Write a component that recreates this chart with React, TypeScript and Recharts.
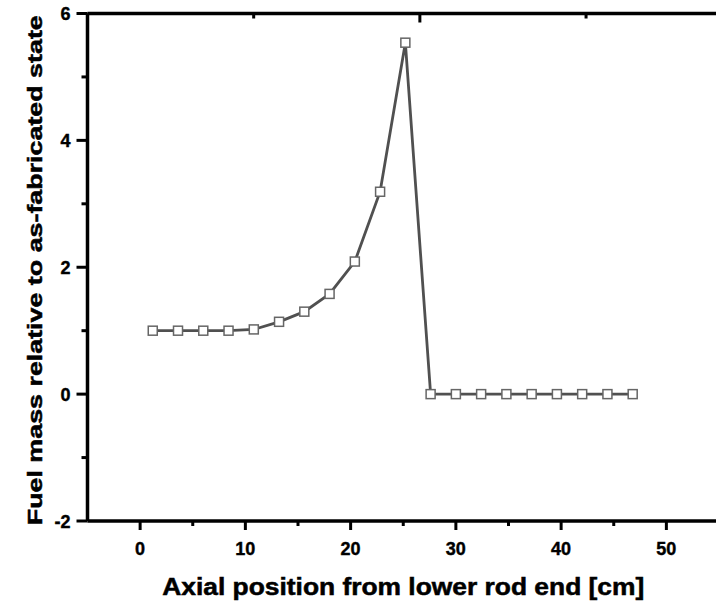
import React from 'react';
import { LineChart, Line, XAxis, YAxis } from 'recharts';

// axial position [cm]
const axialPos = [
  1.2, 3.6, 6.0, 8.4, 10.8, 13.2, 15.6, 18.0, 20.4, 22.8,
  25.2, 27.6, 30.0, 32.4, 34.8, 37.2, 39.6, 42.0, 44.4, 46.8,
];
// fuel mass relative to as-fabricated state
const fuelMass = [
  1.0, 1.0, 1.0, 1.0, 1.02, 1.14, 1.3, 1.58, 2.09, 3.19,
  5.54, 0, 0, 0, 0, 0, 0, 0, 0, 0,
];
const xTicks = [0, 5, 10, 15, 20, 25, 30, 35, 40, 45, 50];
const yTicks = [-2, -1, 0, 1, 2, 3, 4, 5, 6];

const data = axialPos.map((x, i) => ({ x, y: fuelMass[i] }));

const tickFont = {
  fontFamily: 'Liberation Sans, Arial',
  fontWeight: 700,
  fontSize: 18,
  fill: '#000',
  stroke: '#000',
  strokeWidth: 0.4,
};
const titleFont = {
  fontFamily: 'Liberation Sans, Arial',
  fontWeight: 700,
  fill: '#000',
  stroke: '#000',
  strokeWidth: 0.5,
};

const BottomTick = ({ x, y, payload }: any) => {
  const v = payload.value;
  const major = v % 10 === 0;
  return (
    <g>
      <line x1={x} x2={x} y1={y} y2={y + (major ? 9 : 5)} stroke="#000" strokeWidth={3} />
      {major && (
        <text x={x} y={y + 34} textAnchor="middle" {...tickFont}>
          {v}
        </text>
      )}
    </g>
  );
};

const TopTick = ({ x, y, payload }: any) => {
  const major = payload.value % 10 === 0;
  return <line x1={x} x2={x} y1={y} y2={y + (major ? 9 : 5)} stroke="#000" strokeWidth={3} />;
};

const LeftTick = ({ x, y, payload }: any) => {
  const v = payload.value;
  const major = v % 2 === 0;
  return (
    <g>
      <line x1={x} x2={x - (major ? 11 : 6)} y1={y} y2={y} stroke="#000" strokeWidth={3} />
      {major && (
        <text x={x - 17} y={y + 6.5} textAnchor="end" {...tickFont}>
          {v}
        </text>
      )}
    </g>
  );
};

const RightTick = ({ x, y, payload }: any) => {
  const major = payload.value % 2 === 0;
  return <line x1={x} x2={x - (major ? 10 : 5)} y1={y} y2={y} stroke="#000" strokeWidth={3} />;
};

const XTitle = ({ viewBox }: any) => (
  <text
    x={viewBox.x + viewBox.width / 2}
    y={viewBox.y + 74}
    textAnchor="middle"
    fontSize={23}
    textLength={482}
    lengthAdjust="spacingAndGlyphs"
    {...titleFont}
  >
    Axial position from lower rod end [cm]
  </text>
);

const YTitle = ({ viewBox }: any) => {
  const cx = 42;
  const cy = viewBox.y + viewBox.height / 2 + 3;
  return (
    <text
      x={cx}
      y={cy}
      transform={`rotate(-90 ${cx} ${cy})`}
      textAnchor="middle"
      fontSize={21}
      textLength={510}
      lengthAdjust="spacingAndGlyphs"
      {...titleFont}
    >
      Fuel mass relative to as-fabricated state
    </text>
  );
};

const Square = ({ cx, cy }: any) => {
  if (cx == null || cy == null) return null;
  return (
    <rect x={cx - 4.5} y={cy - 4.5} width={9} height={9} fill="#fff" stroke="#666" strokeWidth={1.5} />
  );
};

export default function App() {
  const axisLine = { stroke: '#000', strokeWidth: 3.5 };
  return (
    <div style={{ position: 'absolute', left: 0, top: 0, width: 716, height: 604, overflow: 'hidden', background: '#fff' }}>
      <LineChart width={724} height={604} data={data} margin={{ top: 8.5, right: 0, bottom: 43, left: 37.5 }}>
        <XAxis
          dataKey="x"
          type="number"
          domain={[-5, 55]}
          ticks={xTicks}
          interval={0}
          height={40}
          tickSize={0}
          tickMargin={0}
          tickLine={false}
          axisLine={axisLine}
          tick={<BottomTick />}
          label={<XTitle />}
        />
        <XAxis
          xAxisId="top"
          orientation="top"
          type="number"
          domain={[-5, 55]}
          ticks={xTicks}
          interval={0}
          height={5}
          tickSize={0}
          tickMargin={0}
          tickLine={false}
          axisLine={axisLine}
          tick={<TopTick />}
        />
        <YAxis
          type="number"
          domain={[-2, 6]}
          ticks={yTicks}
          interval={0}
          width={50}
          tickSize={0}
          tickMargin={0}
          tickLine={false}
          axisLine={axisLine}
          tick={<LeftTick />}
          label={<YTitle />}
        />
        <YAxis
          yAxisId="right"
          orientation="right"
          type="number"
          domain={[-2, 6]}
          ticks={yTicks}
          interval={0}
          width={5}
          tickSize={0}
          tickMargin={0}
          tickLine={false}
          axisLine={axisLine}
          tick={<RightTick />}
        />
        <Line
          dataKey="y"
          type="linear"
          stroke="#505050"
          strokeWidth={2.8}
          dot={<Square />}
          activeDot={false}
          isAnimationActive={false}
        />
      </LineChart>
    </div>
  );
}
